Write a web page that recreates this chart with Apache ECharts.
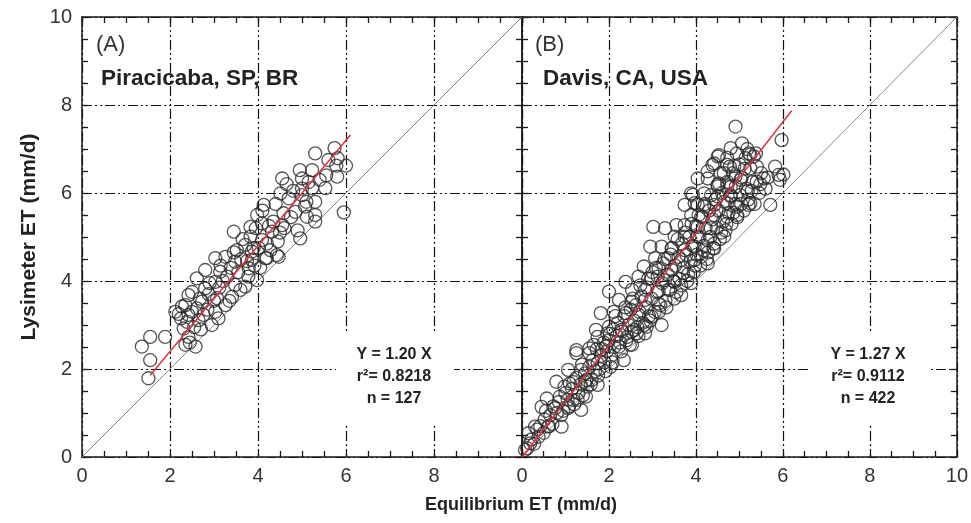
<!DOCTYPE html>
<html>
<head>
<meta charset="utf-8">
<script src="https://cdn.jsdelivr.net/npm/echarts@6/dist/echarts.min.js"></script>
<style>
html,body{margin:0;padding:0;background:#fff;}
#chart{width:971px;height:523px;}
</style>
</head>
<body>
<div id="chart"></div>
<script>
// ---------------- DATA ----------------
const xTicks = [0, 2, 4, 6, 8, 10];
const yTicks = [0, 2, 4, 6, 8, 10];

// Panel A: Piracicaba, SP, BR  (Equilibrium ET, Lysimeter ET)
const pointsA = [
[5.30,6.90],[5.74,7.02],[5.81,6.79],[5.78,6.62],[6.00,6.62],[5.80,6.37],
[4.95,6.52],[5.23,6.52],[5.00,6.33],[4.55,6.33],[5.53,6.11],[5.23,6.11],
[4.51,5.99],[4.70,5.88],[5.00,5.95],[5.30,5.80],[5.07,5.69],[4.85,5.57],
[5.30,5.50],[5.11,5.46],[5.30,5.35],[5.95,5.56],[4.13,5.73],[3.98,5.50],
[4.58,5.54],[4.35,5.35],[4.09,5.31],[4.55,5.27],[3.45,5.12],[3.83,5.23],
[3.83,5.01],[4.32,5.12],[4.09,4.93],[4.96,4.97],[3.71,4.82],[3.52,4.70],
[3.03,4.52],[3.26,4.55],[3.86,4.67],[4.17,4.52],[4.43,4.59],[3.48,4.44],
[3.86,4.48],[4.20,4.52],[4.47,4.55],[2.80,4.25],[3.14,4.21],[3.79,4.29],
[3.98,4.02],[2.61,4.06],[2.80,3.83],[3.03,3.98],[3.48,3.91],[3.71,3.87],
[2.42,3.68],[3.07,3.61],[3.41,3.64],[2.73,3.53],[2.27,3.42],[2.61,3.38],
[3.26,3.45],[2.12,3.30],[2.42,3.23],[2.76,3.23],[3.03,3.30],[2.39,3.07],
[2.65,3.11],[2.95,3.00],[2.31,2.92],[2.42,2.73],[2.35,2.55],[2.58,2.51],
[1.55,2.73],[1.89,2.73],[1.36,2.51],[1.55,2.20],[1.51,1.79],
[2.25,3.15],[2.35,3.45],[2.50,3.30],[2.55,2.95],[2.50,3.75],[2.68,3.60],
[2.70,2.90],[2.85,3.35],[2.90,3.95],[2.88,3.70],[3.00,3.55],[3.10,3.15],
[3.12,3.85],[3.15,4.35],[3.20,4.00],[3.30,4.10],[3.35,3.55],[3.38,4.30],
[3.45,4.65],[3.55,4.20],[3.60,3.80],[3.62,4.50],[3.65,4.95],[3.75,4.45],
[3.78,4.10],[3.90,4.75],[3.92,4.35],[3.95,5.20],[4.05,4.30],[4.02,4.75],
[4.10,5.60],[4.20,4.85],[4.25,5.25],[4.28,4.70],[4.40,5.75],[4.45,4.90],
[4.50,5.10],[4.60,5.20],[4.65,6.20],[4.75,5.45],[4.80,6.05],[4.90,5.15],
[5.00,6.10],[5.10,5.80],[5.15,6.25],[5.40,6.30],[5.55,6.40],[5.60,6.75],
[2.45,2.60],[2.20,3.25]
];

// Panel B: Davis, CA, USA
const pointsB = [
[4.91,7.51],[5.97,7.20],[5.06,7.13],[4.80,7.02],[4.53,6.86],[5.14,6.79],
[5.33,6.83],[4.42,6.67],[4.72,6.64],[5.25,6.56],[5.82,6.60],[5.90,6.41],
[5.56,6.33],[5.40,6.26],[4.04,6.33],[4.27,6.33],[4.53,6.22],[4.80,6.14],
[5.03,6.30],[3.89,5.99],[4.19,5.99],[4.50,5.92],[4.80,5.92],[3.97,5.77],
[4.19,5.69],[4.42,5.73],[4.95,5.69],[5.21,5.73],[5.71,5.73],[3.89,5.50],
[4.12,5.46],[4.42,5.50],[4.72,5.46],[4.95,5.50],[3.74,5.27],[4.04,5.23],
[4.34,5.20],[3.02,5.23],[3.29,5.20],[3.55,5.27],[3.51,5.01],[3.74,5.01],
[4.04,5.01],[4.27,4.93],[4.65,5.01],[2.95,4.78],[3.21,4.78],[3.44,4.74],
[3.74,4.70],[3.97,4.78],[4.19,4.70],[4.42,4.74],[3.06,4.52],[3.36,4.52],
[3.66,4.48],[3.97,4.48],[4.27,4.40],[2.80,4.33],[3.14,4.29],[3.44,4.25],
[3.70,4.18],[3.89,3.95],[2.68,4.10],[2.98,4.06],[3.29,4.02],[3.51,3.98],
[3.66,3.68],[2.38,3.98],[2.53,3.80],[2.83,3.80],[3.14,3.76],[3.36,3.80],
[2.00,3.76],[2.23,3.57],[2.53,3.53],[2.83,3.57],[3.14,3.49],[1.81,3.27],
[2.11,3.30],[2.38,3.27],[2.68,3.23],[2.98,3.19],[3.21,3.00],[1.70,2.89],
[2.00,2.96],[2.29,2.89],[2.59,2.89],[2.83,2.81],[1.25,2.43],[1.55,2.47],
[1.93,2.51],[2.23,2.51],[2.53,2.55],
[5.25,6.87],[4.50,6.83],[4.72,6.80],[4.38,6.64],[4.88,6.61],[4.27,6.49],
[4.57,6.45],[4.91,6.38],[4.50,6.19],[4.72,6.15],[3.93,5.96],[5.19,6.04],
[3.74,5.73],[4.04,5.73],[4.72,5.77],[5.25,5.77],[6.01,6.42],[5.93,6.30],
[1.25,2.36],[1.55,2.36],[1.06,1.98],[1.36,1.98],[1.74,2.13],[2.04,2.05],
[2.34,2.20],[0.79,1.71],[1.10,1.67],[1.44,1.71],[1.74,1.64],[0.57,1.33],
[0.87,1.37],[1.17,1.30],[1.47,1.37],[0.45,1.14],[0.76,1.11],[1.06,1.11],
[1.36,1.07],[0.30,0.69],[0.60,0.69],[0.91,0.69],[0.15,0.54],[0.38,0.46],
[0.07,0.16],[0.19,0.31],[1.74,2.73],[1.96,2.81],[2.42,2.73],[2.64,2.81],
[2.87,2.96],
[0.22,0.40],[0.35,0.62],[0.50,0.55],[0.52,0.85],[0.65,0.95],[0.70,0.75],
[0.80,1.00],[0.85,1.25],[0.95,1.05],[1.00,1.45],[1.05,1.30],[1.15,1.55],
[1.20,1.20],[1.25,1.80],[1.30,1.45],[1.35,1.65],[1.40,1.40],[1.45,1.90],
[1.50,1.60],[1.55,2.05],[1.60,1.75],[1.62,2.20],[1.68,1.95],[1.72,2.45],
[1.78,2.00],[1.82,2.30],[1.88,2.60],[1.90,2.15],[1.95,2.40],[2.00,2.65],
[2.05,2.30],[2.10,2.90],[2.12,2.50],[2.18,2.75],[2.20,3.05],[2.25,2.60],
[2.30,2.85],[2.35,3.20],[2.40,2.65],[2.45,3.00],[2.50,3.35],[2.52,2.85],
[2.58,3.10],[2.62,3.45],[2.65,2.95],[2.70,3.30],[2.75,3.65],[2.78,3.05],
[2.85,3.40],[2.88,3.85],[2.92,3.20],[2.98,3.60],[3.00,4.20],[3.05,3.30],
[3.10,3.75],[3.12,4.10],[3.18,3.45],[3.22,3.95],[3.25,4.40],[3.30,3.55],
[3.35,4.15],[3.40,3.80],[3.42,4.60],[3.48,4.00],[3.52,4.35],[3.55,3.75],
[3.60,4.55],[3.62,4.05],[3.68,4.85],[3.72,4.30],[3.78,4.60],[3.80,4.00],
[3.85,5.00],[3.88,4.45],[3.92,4.80],[3.95,4.20],[4.00,5.25],[4.02,4.60],
[4.08,5.00],[4.10,4.35],[4.15,5.45],[4.18,4.80],[4.22,5.20],[4.25,4.50],
[4.30,5.60],[4.33,5.00],[4.38,5.40],[4.40,4.75],[4.45,5.85],[4.48,5.20],
[4.52,5.60],[4.55,4.95],[4.60,6.00],[4.62,5.35],[4.65,5.80],[4.68,5.15],
[4.72,6.25],[4.75,5.55],[4.80,5.95],[4.82,5.30],[4.85,6.45],[4.90,5.75],
[4.92,6.15],[4.95,5.45],[5.00,6.65],[5.02,5.95],[5.05,6.35],[5.10,5.60],
[5.12,6.55],[5.15,6.10],[5.20,5.85],[5.22,6.90],[5.30,6.25],[5.35,5.75],
[5.40,6.60],[5.45,6.00],[5.50,6.45],[5.60,6.10],[5.65,6.35],
[0.12,0.20],[0.28,0.30],[0.42,0.70],[0.55,1.05],[0.62,0.70],[0.72,1.15],
[0.90,0.95],[0.98,1.60],[1.08,1.15],[1.18,1.70],[1.28,1.30],[1.38,2.10],
[1.48,1.75],[1.58,1.65],[1.65,2.55],[1.75,1.85],[1.85,2.45],[1.92,1.95],
[2.02,2.80],[2.08,2.15],[2.15,3.20],[2.28,2.40],[2.38,3.40],[2.48,2.55],
[2.55,3.60],[2.68,2.75],[2.72,3.90],[2.82,3.00],[2.90,4.05],[2.95,3.10],
[3.08,4.30],[3.15,3.30],[3.28,4.50],[3.32,3.40],[3.45,4.75],[3.50,3.60],
[3.58,4.95],[3.66,3.90],[3.75,5.10],[3.82,4.15],[3.90,5.30],[3.98,4.35],
[4.06,5.50],[4.12,4.55],[4.20,5.75],[4.28,4.65],[4.35,5.95],[4.42,4.85],
[4.50,6.15],[4.58,5.10],[4.64,6.45],[4.70,5.30],[4.78,6.60],[4.86,5.55],
[4.94,6.90],[5.04,5.75],[5.18,7.00],[5.28,6.05],[5.38,6.90],[5.48,6.20]
];

// 1:1 lines and regression lines (endpoints)
const oneToOne = [[0, 0], [10, 10]];
const regA = [[1.55, 1.86], [6.10, 7.32]];
const regB = [[0.00, 0.00], [6.20, 7.87]];

const statsA = ['Y = 1.20 X', 'r\u00B2= 0.8218', 'n = 127'];
const statsB = ['Y = 1.27 X', 'r\u00B2= 0.9112', 'n = 422'];
const panelLetters = ['(A)', '(B)'];
const panelSites = ['Piracicaba, SP, BR', 'Davis, CA, USA'];
const xTitle = 'Equilibrium ET (mm/d)';
const yTitle = 'Lysimeter ET (mm/d)';

// ---------------- CHART ----------------
const chart = echarts.init(document.getElementById('chart'), null, {renderer: 'canvas'});
const FONT = 'Liberation Sans, Arial, sans-serif';
const AX = '#1a1a1a';
const gridDash = {color: '#111', width: 1.2, type: [10, 3, 2, 3, 2, 3]};

function axis(kind, grid, position, opts) {
  const ticks = kind === 'x' ? xTicks : yTicks;
  return Object.assign({
    type: 'value', gridIndex: grid, position: position,
    min: ticks[0], max: ticks[ticks.length - 1], interval: ticks[1] - ticks[0],
    axisLine: {show: true, onZero: false, lineStyle: {color: AX, width: 1.5}},
    axisTick: {show: true, inside: true, length: 6, lineStyle: {color: AX, width: 1.3}},
    minorTick: {show: true, splitNumber: 4, length: 6, lineStyle: {color: AX, width: 1.3}},
    axisLabel: {show: false},
    splitLine: {show: false},
    minorSplitLine: {show: false}
  }, opts || {});
}
const labelStyle = {show: true, color: '#333', fontSize: 20, fontFamily: FONT, margin: 9};

const option = {
  animation: false,
  backgroundColor: '#fff',
  grid: [
    {left: 82, top: 17, width: 440, height: 440},
    {left: 522, top: 17, width: 441, height: 440}
  ],
  xAxis: [
    axis('x', 0, 'bottom', {axisLabel: Object.assign({}, labelStyle, {formatter: v => v === 10 ? '' : v}), splitLine: {show: true, lineStyle: gridDash}}),
    axis('x', 0, 'top'),
    axis('x', 1, 'bottom', {axisLabel: Object.assign({}, labelStyle), splitLine: {show: true, lineStyle: gridDash}}),
    axis('x', 1, 'top')
  ],
  yAxis: [
    axis('y', 0, 'left', {
      axisLabel: Object.assign({}, labelStyle, {margin: 10}),
      splitLine: {show: true, lineStyle: gridDash},
      name: yTitle, nameLocation: 'middle', nameGap: 42,
      nameTextStyle: {fontFamily: FONT, fontWeight: 'bold', fontSize: 21, color: '#222'}
    }),
    axis('y', 0, 'right'),
    axis('y', 1, 'left', {splitLine: {show: true, lineStyle: gridDash}}),
    axis('y', 1, 'right')
  ],
  series: [
    {type: 'line', xAxisIndex: 0, yAxisIndex: 0, data: oneToOne, symbol: 'none', silent: true, z: 3,
     lineStyle: {color: '#8a8a8a', width: 1}},
    {type: 'scatter', xAxisIndex: 0, yAxisIndex: 0, data: pointsA, symbol: 'circle', symbolSize: 13, z: 4,
     itemStyle: {color: 'rgba(255,255,255,0)', borderColor: '#2a2a2a', borderWidth: 1.3}},
    {type: 'line', xAxisIndex: 0, yAxisIndex: 0, data: regA, symbol: 'none', silent: true, z: 5,
     lineStyle: {color: '#e03040', width: 1.5}},
    {type: 'line', xAxisIndex: 2, yAxisIndex: 2, data: oneToOne, symbol: 'none', silent: true, z: 3,
     lineStyle: {color: '#8a8a8a', width: 1}},
    {type: 'scatter', xAxisIndex: 2, yAxisIndex: 2, data: pointsB, symbol: 'circle', symbolSize: 13, z: 4,
     itemStyle: {color: 'rgba(255,255,255,0)', borderColor: '#2a2a2a', borderWidth: 1.3}},
    {type: 'line', xAxisIndex: 2, yAxisIndex: 2, data: regB, symbol: 'none', silent: true, z: 5,
     lineStyle: {color: '#e03040', width: 1.5}}
  ],
  graphic: []
};

function statsBox(cx, lines) {
  const els = [{type: 'rect', shape: {x: cx - 58, y: 333, width: 118, height: 91}, style: {fill: '#fff'}, z: 50}];
  lines.forEach((t, i) => {
    els.push({type: 'text', x: cx, y: 355 + i * 22, z: 51,
      style: {text: t, fill: '#222', font: 'bold 16px ' + FONT, textAlign: 'center', textVerticalAlign: 'middle'}});
  });
  return els;
}
option.graphic = [].concat(
  statsBox(394, statsA),
  statsBox(868, statsB),
  [
    {type: 'text', x: 96, y: 45, z: 51, style: {text: panelLetters[0], fill: '#333', font: '22px ' + FONT, textVerticalAlign: 'middle'}},
    {type: 'text', x: 101, y: 79, z: 51, style: {text: panelSites[0], fill: '#222', font: 'bold 22.5px ' + FONT, textVerticalAlign: 'middle'}},
    {type: 'text', x: 535, y: 45, z: 51, style: {text: panelLetters[1], fill: '#333', font: '22px ' + FONT, textVerticalAlign: 'middle'}},
    {type: 'text', x: 543, y: 79, z: 51, style: {text: panelSites[1], fill: '#222', font: 'bold 22.5px ' + FONT, textVerticalAlign: 'middle'}},
    {type: 'text', x: 521, y: 505, z: 51, style: {text: xTitle, fill: '#222', font: 'bold 18px ' + FONT, textAlign: 'center', textVerticalAlign: 'middle'}}
  ]
);

chart.setOption(option);
</script>
</body>
</html>
